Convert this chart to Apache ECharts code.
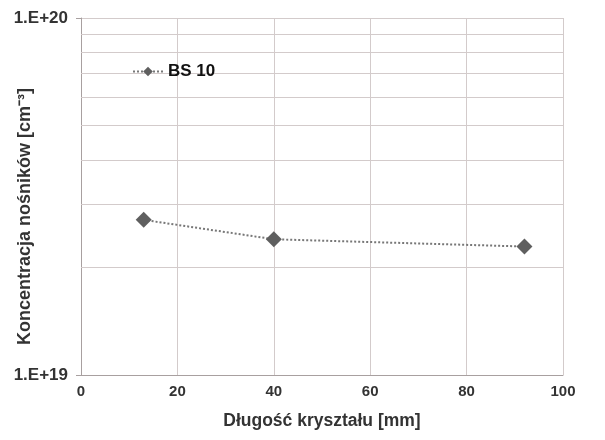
<!DOCTYPE html>
<html>
<head>
<meta charset="utf-8">
<script src="https://cdn.jsdelivr.net/npm/echarts@6/dist/echarts.min.js"></script>
<style>
  html, body { margin: 0; padding: 0; background: #fff; }
  #chart { width: 605px; height: 440px; }
</style>
</head>
<body>
<div id="chart"></div>
<script>
// dane
const lengthMm = [13, 40, 92]
const concentration = [2.72e19, 2.40e19, 2.29e19]
const minorGrid = [2e19, 3e19, 4e19, 5e19, 6e19, 7e19, 8e19, 9e19]
const seriesName = 'BS 10'

const gridColor = '#d3cbcb'
const textColor = '#333'
const font = 'Liberation Sans, Arial, sans-serif'

const chart = echarts.init(document.getElementById('chart'))

const option = {
  backgroundColor: '#fff',
  animation: false,
  grid: { left: 81, right: 42, top: 18, bottom: 65, outerBoundsMode: 'none', containLabel: false },
  legend: {
    data: [seriesName],
    left: 132,
    top: 63,
    padding: 0,
    itemWidth: 30,
    itemHeight: 12,
    itemGap: 5,
    textStyle: { fontFamily: font, fontWeight: 'bold', fontSize: 17, color: '#111' }
  },
  xAxis: {
    type: 'value',
    min: 0,
    max: 100,
    interval: 20,
    name: 'Długość kryształu [mm]',
    nameLocation: 'middle',
    nameGap: 37,
    nameMoveOverlap: false,
    nameTextStyle: { fontFamily: font, fontWeight: 'bold', fontSize: 17.5, color: textColor },
    axisLine: { lineStyle: { color: '#a8a0a0', width: 1 } },
    axisTick: { show: false },
    axisLabel: { margin: 9, fontFamily: font, fontWeight: 'bold', fontSize: 15, color: textColor },
    splitLine: { lineStyle: { color: gridColor, width: 1 } }
  },
  yAxis: {
    type: 'log',
    logBase: 10,
    min: 1e19,
    max: 1e20,
    name: 'Koncentracja nośników [cm⁻³]',
    nameLocation: 'middle',
    nameGap: 47,
    nameMoveOverlap: false,
    nameTextStyle: {
      fontFamily: font, fontWeight: 'bold', fontSize: 18, color: textColor,
      padding: [0, 40, 0, 0]
    },
    axisLine: { show: true, lineStyle: { color: '#a8a0a0', width: 1 } },
    axisTick: { show: true, length: 5, lineStyle: { color: '#a8a0a0' } },
    axisLabel: {
      margin: 13,
      fontFamily: font,
      fontWeight: 'bold',
      fontSize: 17,
      color: textColor,
      formatter: v => '1.E+' + Math.round(Math.log10(v))
    },
    splitLine: { lineStyle: { color: gridColor, width: 1 } }
  },
  series: [
    {
      name: seriesName,
      type: 'line',
      data: lengthMm.map((x, i) => [x, concentration[i]]),
      symbol: 'diamond',
      symbolSize: 16,
      itemStyle: { color: '#5f5f5f' },
      lineStyle: { color: '#777', width: 2, type: [2, 2] },
      markLine: {
        silent: true,
        symbol: 'none',
        label: { show: false },
        lineStyle: { color: gridColor, type: 'solid', width: 1 },
        data: minorGrid.map(v => ({ yAxis: v })),
        z: 1
      },
      z: 3
    }
  ]
}

chart.setOption(option)
</script>
</body>
</html>
